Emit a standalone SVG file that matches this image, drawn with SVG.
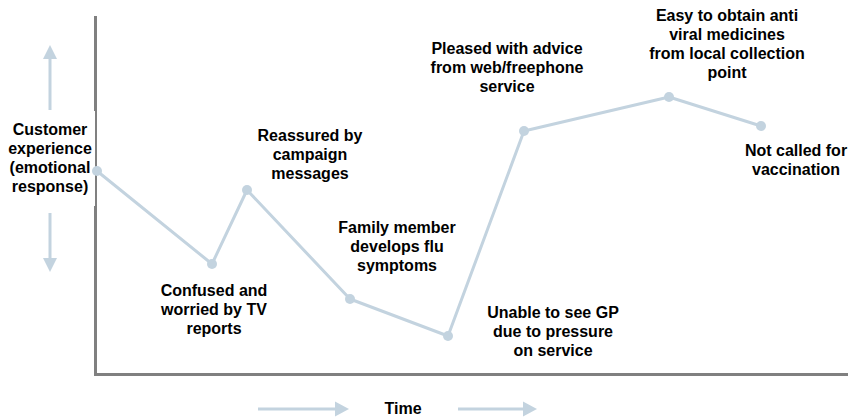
<svg xmlns="http://www.w3.org/2000/svg" width="848" height="420" viewBox="0 0 848 420">
<defs>
<style>
.t{font-family:"Liberation Sans",Arial,sans-serif;font-size:16px;font-weight:bold;fill:#000;text-anchor:middle}
.ax{stroke:#808080;stroke-width:3;fill:none}
.ln{stroke:#c3d3df;stroke-width:3;fill:none;stroke-linejoin:round}
.pt{fill:#c3d3df}
.ar{stroke:#c3d3df;stroke-width:3;fill:none}
.ah{fill:#c3d3df}
</style>
</defs>
<rect width="848" height="420" fill="#fff"/>
<g id="axes">
<path class="ax" d="M95.5,16 V374.5 H848"/>
</g>
<g id="y-label">
<rect x="0" y="111" width="95" height="95" fill="#fff"/>
<text class="t" x="50" y="135">Customer</text>
<text class="t" x="50" y="154">experience</text>
<text class="t" x="50" y="173">(emotional</text>
<text class="t" x="50" y="192">response)</text>
<line class="ar" x1="50" y1="110" x2="50" y2="58"/>
<polygon class="ah" points="50,45 43,59 57,59"/>
<line class="ar" x1="50" y1="213" x2="50" y2="259"/>
<polygon class="ah" points="50,272 43,258 57,258"/>
</g>
<g id="x-label">
<text class="t" x="403" y="414">Time</text>
<line class="ar" x1="258" y1="409" x2="336" y2="409"/>
<polygon class="ah" points="349,409 335,401.5 335,416.5"/>
<line class="ar" x1="458" y1="409" x2="524" y2="409"/>
<polygon class="ah" points="537,409 523,401.5 523,416.5"/>
</g>
<g id="connectors">
<polyline class="ln" points="97,171 212,264 247,190 350,299 448,336 524,131 669,97 761,126"/>
</g>
<g id="n1"><circle class="pt" cx="97" cy="171" r="5"/></g>
<g id="n2"><circle class="pt" cx="212" cy="264" r="5"/>
<text class="t" x="214" y="296">Confused and</text>
<text class="t" x="214" y="315">worried by TV</text>
<text class="t" x="214" y="334">reports</text></g>
<g id="n3"><circle class="pt" cx="247" cy="190" r="5"/>
<text class="t" x="310" y="141">Reassured by</text>
<text class="t" x="310" y="160">campaign</text>
<text class="t" x="310" y="179">messages</text></g>
<g id="n4"><circle class="pt" cx="350" cy="299" r="5"/>
<text class="t" x="397" y="233">Family member</text>
<text class="t" x="397" y="252">develops flu</text>
<text class="t" x="397" y="271">symptoms</text></g>
<g id="n5"><circle class="pt" cx="448" cy="336" r="5"/>
<text class="t" x="553" y="318">Unable to see GP</text>
<text class="t" x="553" y="337">due to pressure</text>
<text class="t" x="553" y="356">on service</text></g>
<g id="n6"><circle class="pt" cx="524" cy="131" r="5"/>
<text class="t" x="507" y="54">Pleased with advice</text>
<text class="t" x="507" y="73">from web/freephone</text>
<text class="t" x="507" y="92">service</text></g>
<g id="n7"><circle class="pt" cx="669" cy="97" r="5"/>
<text class="t" x="727" y="21">Easy to obtain anti</text>
<text class="t" x="727" y="40">viral medicines</text>
<text class="t" x="727" y="59">from local collection</text>
<text class="t" x="727" y="78">point</text></g>
<g id="n8"><circle class="pt" cx="761" cy="126" r="5"/>
<text class="t" x="796" y="156">Not called for</text>
<text class="t" x="796" y="175">vaccination</text></g>
</svg>
